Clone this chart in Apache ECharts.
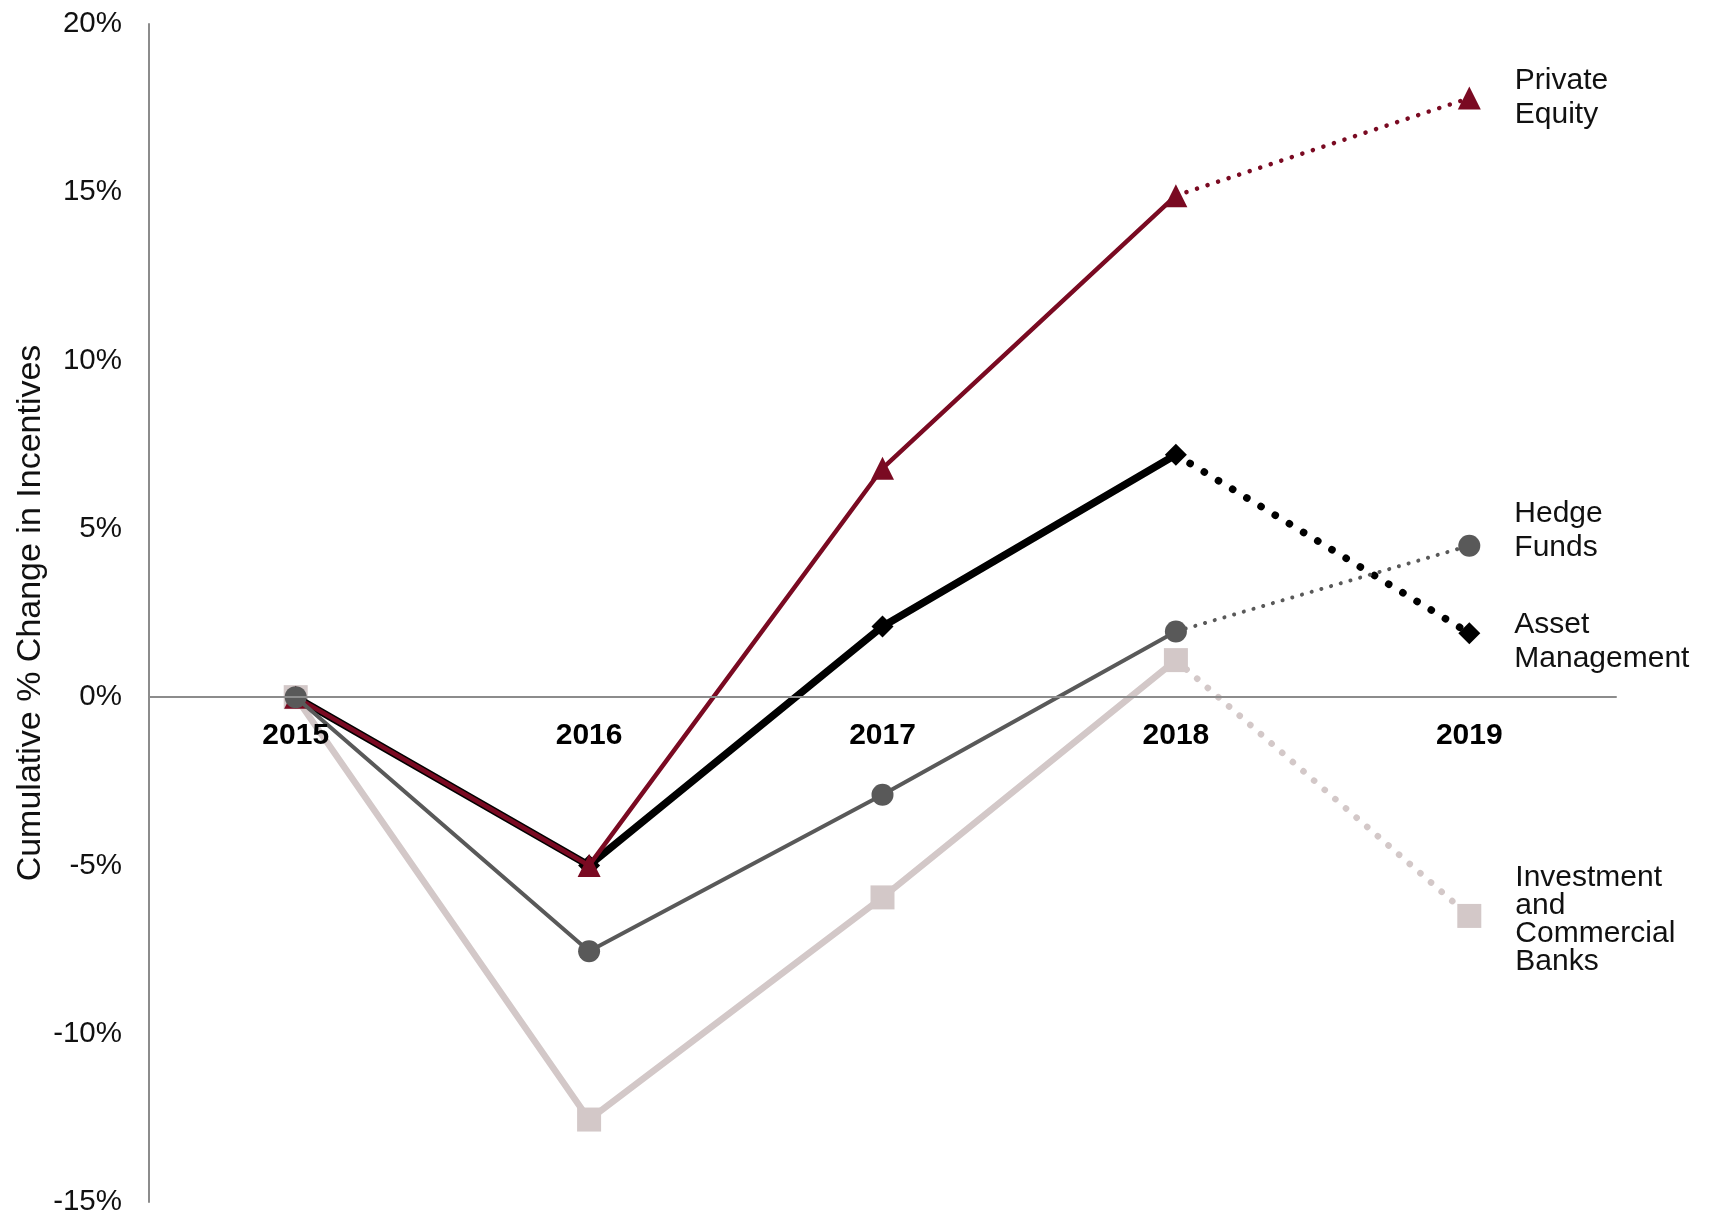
<!DOCTYPE html>
<html>
<head>
<meta charset="utf-8">
<script src="https://cdn.jsdelivr.net/npm/echarts@6/dist/echarts.min.js"></script>
<style>
html,body{margin:0;padding:0;background:#fff;}
#chart{width:1712px;height:1220px;}
</style>
</head>
<body>
<div id="chart"></div>
<script>
const years = ['2015', '2016', '2017', '2018', '2019'];
const privateEquity = [0, -5.0, 6.8, 14.9, 17.8];
const assetManagement = [0, -5.0, 2.1, 7.2, 1.9];
const hedgeFunds = [0, -7.55, -2.9, 1.95, 4.5];
const banks = [0, -12.55, -5.95, 1.1, -6.5];
const yMin = -15, yMax = 20, yStep = 5;
const seriesNames = ['Private\nEquity', 'Asset\nManagement', 'Hedge\nFunds', 'Investment\nand\nCommercial\nBanks'];

const FONT = '"Liberation Sans", Arial, sans-serif';
const lastActual = 3;

function solidPart(arr) { return arr.map((v, i) => i <= lastActual ? v : null); }
function dottedPart(arr, labelText, labelOpts) {
  return arr.map((v, i) => {
    if (i < lastActual) return null;
    if (i === arr.length - 1) {
      return {
        value: v,
        label: Object.assign({
          show: true, position: 'right', distance: 34,
          formatter: labelText, color: '#111', fontFamily: FONT,
          fontSize: 30, lineHeight: 34, align: 'left'
        }, labelOpts || {})
      };
    }
    return { value: v, symbol: 'none' };
  });
}

function makePair(name, arr, color, width, symbol, size, dot, labelText, labelOpts, z) {
  return [
    {
      name: name, type: 'line', data: solidPart(arr), z: z,
      symbol: symbol, symbolSize: size, showSymbol: true,
      lineStyle: { color: color, width: width },
      itemStyle: { color: color, borderWidth: 0 },
      animation: false, silent: true
    },
    {
      name: name + ' (est)', type: 'line', data: dottedPart(arr, labelText, labelOpts), z: z,
      symbol: symbol, symbolSize: size, showSymbol: true,
      lineStyle: { color: color, width: dot.w, type: [0.1, dot.gap], cap: 'round' },
      itemStyle: { color: color, borderWidth: 0 },
      animation: false, silent: true
    }
  ];
}

const series = [].concat(
  makePair('Banks', banks, '#D3C8C8', 6.5, 'rect', 24, { w: 6.5, gap: 14 }, seriesNames[3], { lineHeight: 28, offset: [0, 4] }, 2),
  makePair('Asset Management', assetManagement, '#000000', 7.5, 'diamond', 22, { w: 7.5, gap: 16.5 }, seriesNames[1], { offset: [0, 9] }, 3),
  makePair('Private Equity', privateEquity, '#7A0A22', 4.5, 'triangle', 23, { w: 4.5, gap: 11 }, seriesNames[0], { offset: [0, 0] }, 4),
  makePair('Hedge Funds', hedgeFunds, '#595959', 4, 'circle', 22, { w: 4, gap: 10 }, seriesNames[2], { offset: [0, -15] }, 5)
);

const chart = echarts.init(document.getElementById('chart'), null, { renderer: 'canvas' });
const option = {
  backgroundColor: '#ffffff',
  animation: false,
  grid: { left: 149, right: 96, top: 24, bottom: 18, containLabel: false, outerBoundsMode: 'none' },
  xAxis: {
    type: 'category', data: years, boundaryGap: true, position: 'bottom', offset: 0, z: 10,
    axisLine: { show: true, onZero: false, lineStyle: { color: '#8c8c8c', width: 2 } },
    axisTick: { show: false },
    axisLabel: { color: '#000', fontFamily: FONT, fontWeight: 'bold', fontSize: 30, margin: 24 },
    splitLine: { show: false }
  },
  yAxis: {
    type: 'value', min: yMin, max: yMax, interval: yStep,
    name: 'Cumulative % Change in Incentives', nameLocation: 'middle', nameGap: 101,
    nameMoveOverlap: false,
    nameTextStyle: { color: '#111', fontFamily: FONT, fontSize: 34 },
    axisLine: { show: true, lineStyle: { color: '#8c8c8c', width: 2 } },
    axisTick: { show: false },
    axisLabel: { color: '#111', fontFamily: FONT, fontSize: 29.5, margin: 27, formatter: v => v + '%' },
    splitLine: { show: false }
  },
  series: series
};
chart.setOption(option);
// place the category axis on the zero line
const yZero = chart.convertToPixel({ yAxisIndex: 0 }, 0);
const yBottom = chart.convertToPixel({ yAxisIndex: 0 }, yMin);
chart.setOption({ xAxis: { offset: -(yBottom - yZero) } });
</script>
</body>
</html>
